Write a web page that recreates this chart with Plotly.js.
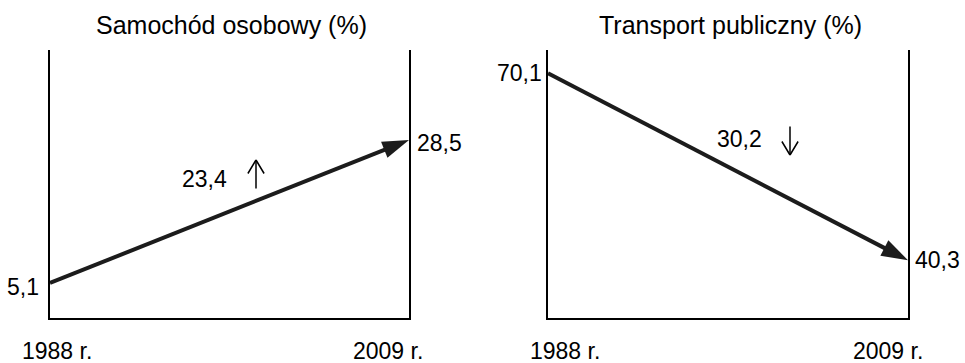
<!DOCTYPE html>
<html>
<head>
<meta charset="utf-8">
<script src="https://cdn.plot.ly/plotly-3.0.1.min.js"></script>
<style>html,body{margin:0;padding:0;background:#fff;}#chart{width:965px;height:363px;}</style>
</head>
<body>
<div id="chart"></div>
<script>
// ---- data ----
const years = [1988, 2009];
const yearLabels = ["1988 r.", "2009 r."];
const panelTitles = ["Samochód osobowy (%)", "Transport publiczny (%)"];
const carShare = [5.1, 28.5];
const publicShare = [70.1, 40.3];
const changeValues = [23.4, 30.2];
const changeDirections = ["up", "down"];

const fmt = v => v.toFixed(1).replace('.', ',');
const FONT = "Liberation Sans, Arial, sans-serif";
const LINE = "#1c1c1c";

function trace(y, xa, ya) {
  return {
    x: years, y: y, xaxis: xa, yaxis: ya,
    type: 'scatter', mode: 'lines+markers',
    line: {color: LINE, width: 4},
    marker: {symbol: ['circle', 'arrow'], size: [0, 28], color: LINE, opacity: 1, angleref: 'previous', line: {width: 0, color: LINE}},
    hoverinfo: 'skip', showlegend: false, cliponaxis: false
  };
}

const data = [trace(carShare, 'x', 'y'), trace(publicShare, 'x2', 'y2')];

const axX = dom => ({domain: dom, range: [years[0], years[1]], showline: true, linecolor: '#000', linewidth: 2,
  showgrid: false, zeroline: false, showticklabels: false, ticks: '', fixedrange: true});
const axY = (rng, anchor) => ({domain: [0.124, 0.862], range: rng, showline: true, mirror: true, linecolor: '#000', linewidth: 2,
  showgrid: false, zeroline: false, showticklabels: false, ticks: '', anchor: anchor, fixedrange: true});

const ann = [];
const numFont = {family: FONT, size: 23, color: '#000'};
// titles
[[0.2394, panelTitles[0]], [0.7565, panelTitles[1]]].forEach(([px, t]) => {
  ann.push({text: t, xref: 'paper', yref: 'paper', x: px, y: 0.932, xanchor: 'center', yanchor: 'middle', showarrow: false,
    font: {family: FONT, size: 25, color: '#000'}});
});
// value labels
ann.push({text: fmt(carShare[0]), xref: 'x', yref: 'y', x: years[0], y: carShare[0], xanchor: 'right', yanchor: 'middle', xshift: -9, yshift: -4, showarrow: false, font: numFont});
ann.push({text: fmt(carShare[1]), xref: 'x', yref: 'y', x: years[1], y: carShare[1], xanchor: 'left', yanchor: 'middle', xshift: 6, yshift: -3, showarrow: false, font: numFont});
ann.push({text: fmt(publicShare[0]), xref: 'x2', yref: 'y2', x: years[0], y: publicShare[0], xanchor: 'right', yanchor: 'middle', xshift: -4, showarrow: false, font: numFont});
ann.push({text: fmt(publicShare[1]), xref: 'x2', yref: 'y2', x: years[1], y: publicShare[1], xanchor: 'left', yanchor: 'middle', xshift: 5, showarrow: false, font: numFont});
// change labels
ann.push({text: fmt(changeValues[0]), xref: 'paper', yref: 'paper', x: 0.2124, y: 0.507, xanchor: 'center', yanchor: 'middle', showarrow: false, font: numFont});
ann.push({text: fmt(changeValues[1]), xref: 'paper', yref: 'paper', x: 0.7668, y: 0.617, xanchor: 'center', yanchor: 'middle', showarrow: false, font: numFont});
// direction arrows (thin open arrows): shaft + two arms drawn as plain annotation lines from the tip
const arrowTips = [[256/965, 1 - 160/363], [790/965, 1 - 155/363]];
changeDirections.forEach((d, i) => {
  const s = d === 'up' ? 1 : -1;
  [[0, 30 * s], [-9, 15 * s], [9, 15 * s]].forEach(([dx, dy]) => {
    ann.push({text: '', xref: 'paper', yref: 'paper', x: arrowTips[i][0], y: arrowTips[i][1],
      ax: dx, ay: dy, showarrow: true, arrowhead: 0, arrowwidth: 1.5, arrowcolor: '#000', standoff: 0, startstandoff: 0});
  });
});
// year labels
const yShifts = {x: [7, -21], x2: [17, -20]};
['x', 'x2'].forEach(xr => {
  years.forEach((yr, i) => {
    ann.push({text: yearLabels[i], xref: xr, yref: 'paper', x: yr, y: 0.033, xanchor: 'center', yanchor: 'middle', xshift: yShifts[xr][i], showarrow: false, font: numFont});
  });
});

const layout = {
  width: 965, height: 363,
  margin: {l: 0, r: 0, t: 0, b: 0},
  paper_bgcolor: '#fff', plot_bgcolor: 'rgba(0,0,0,0)',
  showlegend: false,
  xaxis: axX([50/965, 409/965]),
  yaxis: axY([-0.63, 43.2], 'x'),
  xaxis2: axX([548/965, 908/965]),
  yaxis2: axY([31.1, 73.8], 'x2'),
  annotations: ann,
  font: {family: FONT}
};
layout.xaxis2.anchor = 'y2';
layout.xaxis.anchor = 'y';

Plotly.newPlot('chart', data, layout, {displayModeBar: false, staticPlot: true});
</script>
</body>
</html>
